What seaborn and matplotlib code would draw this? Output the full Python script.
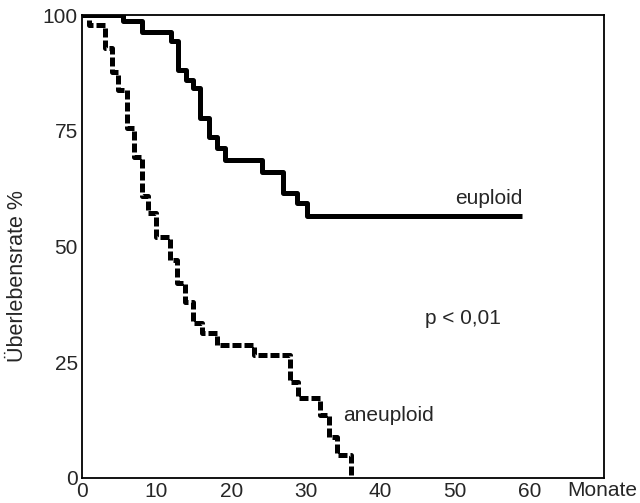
import numpy as np
import pandas as pd
import seaborn as sns
import matplotlib.pyplot as plt

# Kaplan-Meier Kurven
eu_monate = [0, 5.5, 8.0, 12.0, 12.9, 14.0, 14.9, 15.8, 17.0, 18.1, 19.2, 24.1, 27.0, 28.8, 30.2, 59.0]
eu_rate = [100, 98.8, 96.4, 94.3, 88.1, 86.0, 84.2, 77.7, 73.7, 71.2, 68.7, 66.2, 61.5, 59.4, 56.5, 56.5]

aneu_monate = [0, 1.0, 3.1, 4.0, 4.9, 6.0, 7.0, 8.0, 8.9, 9.9, 11.8, 12.8, 13.8, 14.9,
               16.1, 18.1, 23.0, 27.9, 29.0, 31.9, 33.1, 34.2, 36.0]
aneu_rate = [100, 97.8, 92.8, 87.8, 83.8, 75.6, 69.4, 60.8, 57.2, 52.1, 47.1, 42.0, 38.1, 33.4,
             31.2, 28.7, 26.6, 20.8, 17.2, 13.6, 8.9, 5.0, 0]

x_ticks = [0, 10, 20, 30, 40, 50, 60]
y_ticks = [0, 25, 50, 75, 100]

sns.set_style('white')
plt.rcParams['font.family'] = ['Liberation Sans', 'DejaVu Sans']

eu = pd.DataFrame({'monate': eu_monate, 'rate': eu_rate})
aneu = pd.DataFrame({'monate': aneu_monate, 'rate': aneu_rate})

fig = plt.figure(figsize=(6.4, 5.03), dpi=100)
ax = fig.add_axes([0.128, 0.05, 0.816, 0.92])

sns.lineplot(data=eu, x='monate', y='rate', estimator=None, sort=False, ax=ax,
             color='black', linewidth=3.6, drawstyle='steps-post',
             solid_capstyle='butt')
sns.lineplot(data=aneu, x='monate', y='rate', estimator=None, sort=False, ax=ax,
             color='black', linewidth=3.6, drawstyle='steps-post',
             dashes=False, linestyle=(0, (1.8, 0.6)), dash_capstyle='butt')

ax.set_xlim(0, 70)
ax.set_ylim(0, 100)
ax.set_xticks(x_ticks)
ax.set_yticks(y_ticks)
ax.tick_params(direction='in', length=6, width=1.3, labelsize=15, pad=3)
for s in ax.spines.values():
    s.set_linewidth(1.3)
    s.set_color('black')

ax.set_xlabel('')
ax.set_ylabel('Überlebensrate %', fontsize=15.5)
ax.yaxis.set_label_coords(-0.103, 0.435)
fig.text(637 / 640, 1 - 491 / 503, 'Monate', ha='right', va='center', fontsize=15)

ax.text(59, 58.3, 'euploid', ha='right', va='bottom', fontsize=15)
ax.text(35, 13.5, 'aneuploid', ha='left', va='center', fontsize=15)
ax.text(46, 34.5, 'p < 0,01', ha='left', va='center', fontsize=15)

fig.savefig('out.png', dpi=100)
